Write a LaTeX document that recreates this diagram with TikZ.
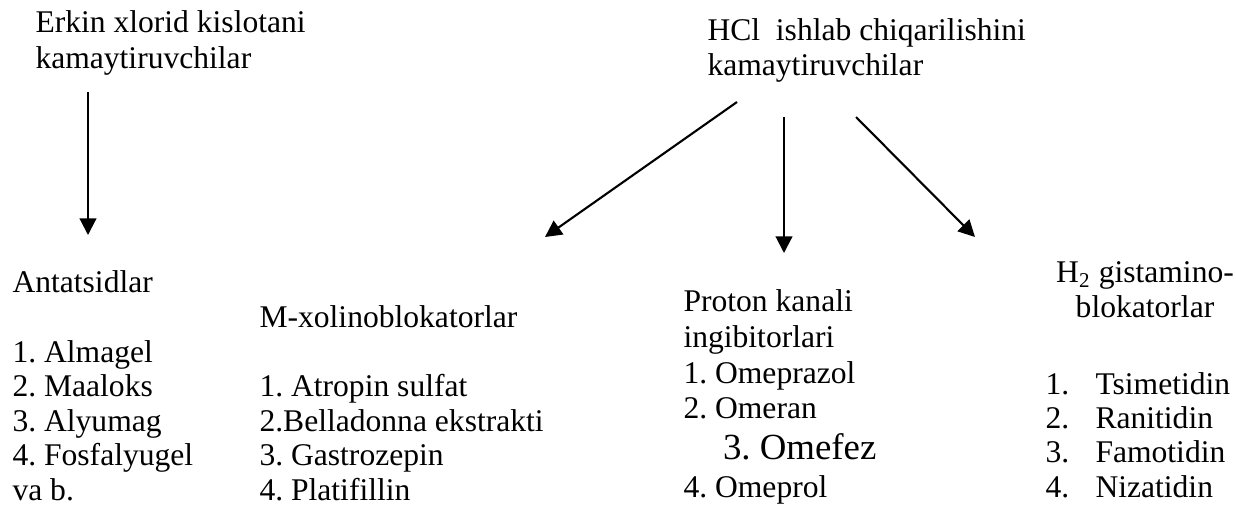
\documentclass[tikz,border=0pt]{standalone}
\usepackage{fontspec}
\setmainfont{Liberation Serif}
\usepackage{tikz}
\usetikzlibrary{arrows.meta}
\frenchspacing

\newcommand{\numitem}[1]{\makebox[19pt][l]{#1}}

\begin{document}
\begin{tikzpicture}[x=0.38pt,y=-0.38pt,
    txt/.style={inner sep=0pt, anchor=base west, align=left,
      font=\fontsize{12}{13.1}\selectfont},
    arr/.style={line width=0.8pt, -{Triangle[length=6.3pt,width=6.3pt]}}]
  \useasboundingbox (0,0) rectangle (1236,512);
  % headings (multi-line nodes sit on their last baseline)
  \node [txt, font=\fontsize{12}{13.5}\selectfont] (erkin) at (35,68)
    {Erkin xlorid kislotani\\kamaytiruvchilar};
  \node [txt, font=\fontsize{12}{13.2}\selectfont] (hcl) at (707,75)
    {HCl\ \ ishlab chiqarilishini\\kamaytiruvchilar};
  % groups
  \node [txt] (antacid) at (12,292) {Antatsidlar};
  \node [txt] (antlist) at (12,500)
    {1. Almagel\\2. Maaloks\\3. Alyumag\\4. Fosfalyugel\\va b.};
  \node [txt] (mxol) at (259,327) {M-xolinoblokatorlar};
  \node [txt] (mlist) at (259,500)
    {1. Atropin sulfat\\2.Belladonna ekstrakti\\3. Gastrozepin\\4. Platifillin};
  \node [txt, font=\fontsize{12}{13.6}\selectfont] (proton) at (683,497)
    {Proton kanali\\ingibitorlari\\1. Omeprazol\\2. Omeran\\[2pt]
     \hspace*{15pt}{\fontsize{14}{16}\selectfont 3. Omefez}\\[0.5pt]4. Omeprol};
  \node [txt, anchor=base, align=center, font=\fontsize{12}{13.2}\selectfont]
    (gist) at (1145,317) {H\textsubscript{2} gistamino-\\blokatorlar};
  \node [txt, font=\fontsize{12}{13}\selectfont] (glist) at (1045,497)
    {\numitem{1.}Tsimetidin\\\numitem{2.}Ranitidin\\\numitem{3.}Famotidin\\\numitem{4.}Nizatidin};
  % arrows
  \coordinate (top1) at (88,92);
  \coordinate (tip1) at (88,235);
  \draw [arr] (top1) -- (tip1);
  \coordinate (top2) at (737,102);
  \coordinate (tip2) at (545,237);
  \draw [arr] (top2) -- (tip2);
  \coordinate (top3) at (784,117);
  \coordinate (tip3) at (784,253);
  \draw [arr] (top3) -- (tip3);
  \coordinate (top4) at (856,117);
  \coordinate (tip4) at (975,237);
  \draw [arr] (top4) -- (tip4);
\end{tikzpicture}
\end{document}
